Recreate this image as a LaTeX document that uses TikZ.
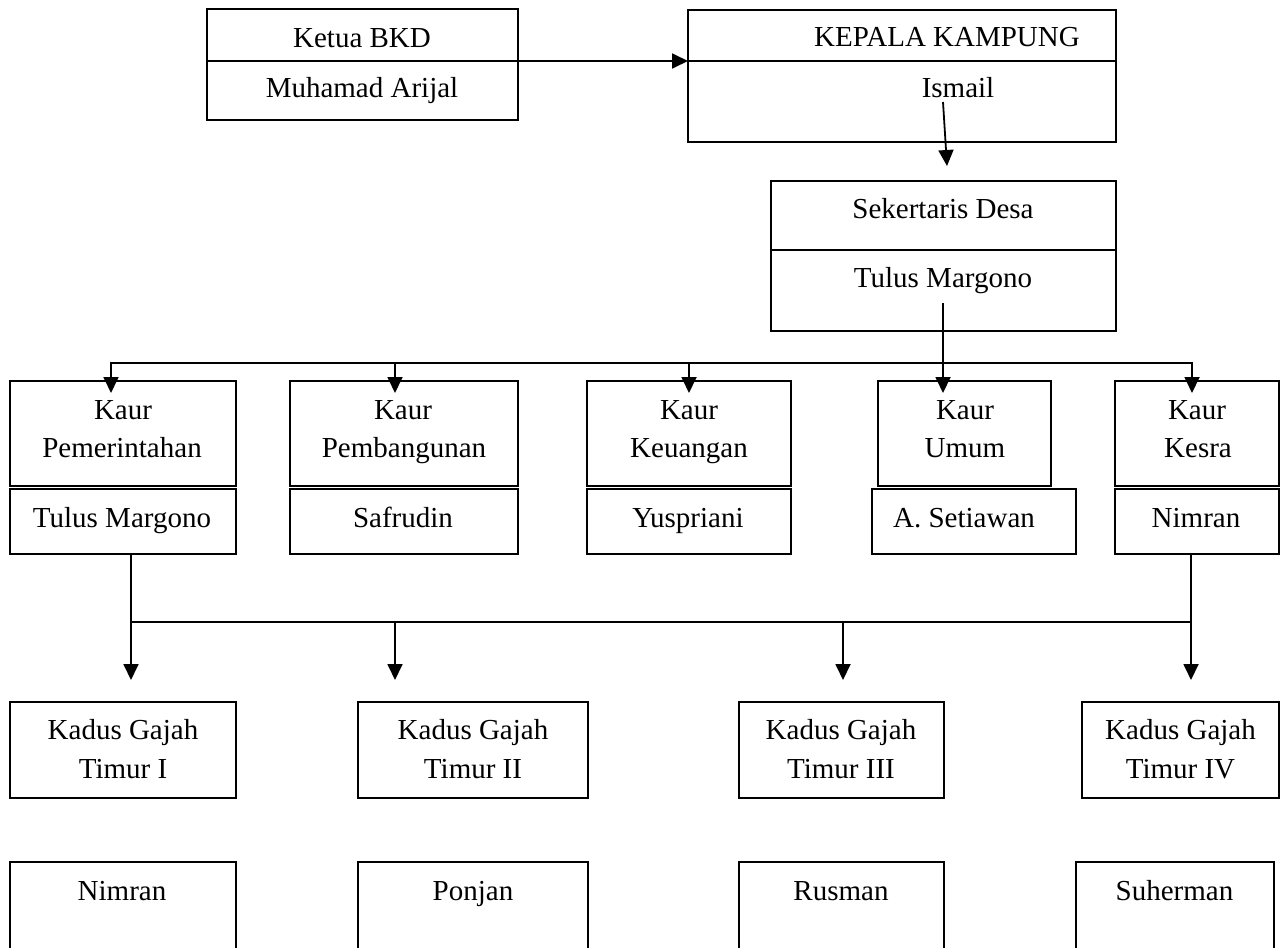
\documentclass[tikz,border=0pt]{standalone}
\usepackage{fontspec}
\setmainfont{Liberation Serif}
\usetikzlibrary{arrows.meta,calc}
\begin{document}
\begin{tikzpicture}[x=1pt,y=-1pt,
  ln/.style={line width=1.8pt},
  arr/.style={ln,-{Triangle[length=16pt,width=15pt]}},
  box/.style={draw,line width=1.8pt,inner sep=0pt,outer sep=0pt},
  lbl/.style={font=\fontsize{29}{38}\selectfont,inner sep=0pt,anchor=base}]
\useasboundingbox (0,0) rectangle (1281,947);
\fill[white] (0,0) rectangle (1281,947);
\clip (0,0) rectangle (1281,947);
% top boxes
\node[box,minimum width=311pt,minimum height=111pt] (ketua) at (362.5,64.5) {};
\node[box,minimum width=428pt,minimum height=132pt] (kepala) at (902,76) {};
\node[box,minimum width=345pt,minimum height=150pt] (sek) at (943.5,256) {};
\draw[ln] (ketua.west |- 0,61) -- (ketua.east |- 0,61);
\draw[ln] (kepala.west |- 0,61) -- (kepala.east |- 0,61);
\draw[ln] (sek.west |- 0,250) -- (sek.east |- 0,250);
\node[lbl] (t1) at (362,48) {Ketua BKD};
\node[lbl] (t2) at (362,98) {Muhamad Arijal};
\node[lbl] (t3) at (947,47) {KEPALA KAMPUNG};
\node[lbl] (t4) at (958,98) {Ismail};
\node[lbl] (t5) at (943,218) {Sekertaris Desa};
\node[lbl] (t6) at (943,287) {Tulus Margono};
% kaur boxes
\node[box,minimum width=226pt,minimum height=105pt] (kp) at (123,433.5) {};
\node[box,minimum width=228pt,minimum height=105pt] (kb) at (404,433.5) {};
\node[box,minimum width=204pt,minimum height=105pt] (kk) at (689,433.5) {};
\node[box,minimum width=173pt,minimum height=105pt] (ku) at (964.5,433.5) {};
\node[box,minimum width=164pt,minimum height=105pt] (ks) at (1197,433.5) {};
\node[box,minimum width=226pt,minimum height=65pt] (np) at (123,521.5) {};
\node[box,minimum width=228pt,minimum height=65pt] (nb) at (404,521.5) {};
\node[box,minimum width=204pt,minimum height=65pt] (nk) at (689,521.5) {};
\node[box,minimum width=204pt,minimum height=65pt] (na) at (974,521.5) {};
\node[box,minimum width=164pt,minimum height=65pt] (nn) at (1197,521.5) {};
\node[lbl] at (123,419) {Kaur};
\node[lbl] at (122,457) {Pemerintahan};
\node[lbl] at (403,419) {Kaur};
\node[lbl] at (404,457) {Pembangunan};
\node[lbl] at (689,419) {Kaur};
\node[lbl] at (689,457) {Keuangan};
\node[lbl] at (965,419) {Kaur};
\node[lbl] at (965,457) {Umum};
\node[lbl] at (1197,419) {Kaur};
\node[lbl] at (1198,457) {Kesra};
\node[lbl] at (122,527) {Tulus Margono};
\node[lbl] at (403,527) {Safrudin};
\node[lbl] at (688,527) {Yuspriani};
\node[lbl] at (964,527) {A. Setiawan};
\node[lbl] at (1196,527) {Nimran};
% kadus boxes
\node[box,minimum width=226pt,minimum height=96pt] (k1) at (123,750) {};
\node[box,minimum width=230pt,minimum height=96pt] (k2) at (473,750) {};
\node[box,minimum width=205pt,minimum height=96pt] (k3) at (841.5,750) {};
\node[box,minimum width=197pt,minimum height=96pt] (k4) at (1180.5,750) {};
\node[lbl] at (123,739) {Kadus Gajah};
\node[lbl] at (123,778) {Timur I};
\node[lbl] at (473,739) {Kadus Gajah};
\node[lbl] at (473,778) {Timur II};
\node[lbl] at (841,739) {Kadus Gajah};
\node[lbl] at (841,778) {Timur III};
\node[lbl] at (1180.5,739) {Kadus Gajah};
\node[lbl] at (1180.5,778) {Timur IV};
% bottom boxes
\node[box,minimum width=226pt,minimum height=108pt] (b1) at (123,916) {};
\node[box,minimum width=230pt,minimum height=108pt] (b2) at (473,916) {};
\node[box,minimum width=205pt,minimum height=108pt] (b3) at (841.5,916) {};
\node[box,minimum width=198pt,minimum height=108pt] (b4) at (1175,916) {};
\node[lbl] at (122,900) {Nimran};
\node[lbl] at (473,900) {Ponjan};
\node[lbl] at (841,900) {Rusman};
\node[lbl] at (1174.5,900) {Suherman};
% connectors
\draw[arr] (ketua.east |- 0,61) -- (kepala.west |- 0,61);
\coordinate (i1) at (943,102);
\coordinate (i2) at (947,166);
\draw[arr] (i1) -- (i2);
\coordinate (s1) at (943,303);
\coordinate (busA) at (943,363);
\draw[ln] (s1) -- (busA);
\draw[ln,line cap=rect] (111,363) -- (1192,363);
\foreach \xx/\nm in {111/kp,395/kb,689/kk,943/ku,1192/ks}
  \draw[arr] (\xx,363) -- ($(\nm.north -| \xx,0)+(0,12)$);
\draw[ln] (np.south -| 131,0) -- (131,622);
\draw[ln] (nn.south -| 1191,0) -- (1191,622);
\draw[ln,line cap=rect] (131,622) -- (1191,622);
\foreach \xx/\nm in {131/k1,395/k2,843/k3,1191/k4}
  \draw[arr] (\xx,622) -- ($(\nm.north -| \xx,0)+(0,-22)$);
\end{tikzpicture}
\end{document}
